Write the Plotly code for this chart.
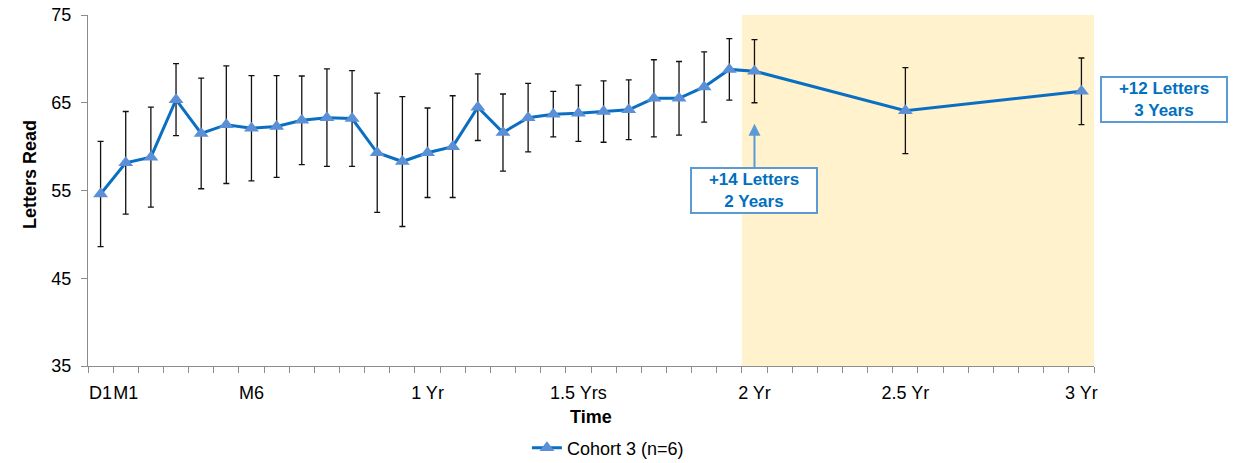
import plotly.graph_objects as go

# ---- data ----
x_index = list(range(27)) + [32, 39]
letters_mean = [54.6, 58.15, 58.8, 65.35, 61.5, 62.5, 62.1, 62.3, 63.0, 63.3, 63.2,
                59.3, 58.3, 59.3, 60.0, 64.5, 61.6, 63.3, 63.7, 63.8, 64.0, 64.2,
                65.5, 65.5, 66.8, 68.8, 68.6, 64.1, 66.3]
letters_err = [6.0, 5.85, 5.7, 4.1, 6.3, 6.7, 6.0, 5.8, 5.05, 5.55, 5.45,
               6.8, 7.4, 5.1, 5.8, 3.8, 4.4, 3.9, 2.6, 3.2, 3.5, 3.4,
               4.4, 4.2, 4.0, 3.5, 3.6, 4.9, 3.8]
tick_positions = [0, 1, 6, 13, 19, 26, 32, 39]
tick_labels = ["D1", "M1", "M6", "1 Yr", "1.5 Yrs", "2 Yr", "2.5 Yr", "3 Yr"]
n_categories = 40
series_name = "Cohort 3 (n=6)"
y_ticks = [35, 45, 55, 65, 75]

FONT = "Liberation Sans, Arial, sans-serif"
LINE_COLOR = "#0A6FC2"
MARKER_COLOR = "#5B8FD6"
BOX_COLOR = "#5B9BD5"
TEXT_BLUE = "#0070C0"
AXIS_GREY = "#8C8C8C"

fig = go.Figure()

fig.add_trace(go.Scatter(
    x=x_index, y=letters_mean, name=series_name, mode="lines+markers",
    line=dict(color=LINE_COLOR, width=3),
    marker=dict(symbol="triangle-up", size=13, color=MARKER_COLOR),
    error_y=dict(type="data", array=letters_err, visible=True,
                 color="#111111", thickness=1.3, width=3),
    cliponaxis=False,
))

# shaded region (2 Yr onwards)
fig.add_shape(type="rect", xref="x", yref="y", x0=25.5, x1=n_categories - 0.5,
              y0=35, y1=75, fillcolor="#FFF2CC", line=dict(width=0), layer="below")

# callout boxes
fig.add_annotation(
    x=26, y=62.6, xref="x", yref="y", ax=26, ay=55.0, axref="x", ayref="y",
    text="<b>+14 Letters<br>2 Years</b>", showarrow=True,
    arrowhead=2, arrowsize=1.2, arrowwidth=2, arrowcolor=BOX_COLOR,
    font=dict(family=FONT, size=17, color=TEXT_BLUE),
    bordercolor=BOX_COLOR, borderwidth=2, borderpad=2, bgcolor="white",
    width=120, height=39,
)
fig.add_annotation(
    x=(1164 - 88) / 1006, y=65.4, xref="paper", yref="y", showarrow=False,
    xanchor="center", yanchor="middle",
    text="<b>+12 Letters<br>3 Years</b>",
    font=dict(family=FONT, size=17, color=TEXT_BLUE),
    bordercolor=BOX_COLOR, borderwidth=2, borderpad=2, bgcolor="white",
    width=120, height=39,
)

# axis titles
fig.add_annotation(
    x=-58 / 1006, y=(366 - 175) / 351, xref="paper", yref="paper",
    text="<b>Letters Read</b>", textangle=-90, showarrow=False,
    xanchor="center", yanchor="middle",
    font=dict(family=FONT, size=18, color="#000000"),
)
fig.add_annotation(
    x=0.5, y=-(417 - 366) / 351, xref="paper", yref="paper",
    text="<b>Time</b>", showarrow=False, xanchor="center", yanchor="middle",
    font=dict(family=FONT, size=18, color="#000000"),
)

fig.update_layout(
    width=1234, height=463,
    margin=dict(l=88, r=140, t=15, b=97, autoexpand=False),
    paper_bgcolor="white", plot_bgcolor="white",
    font=dict(family=FONT, size=18, color="#000000"),
    showlegend=True,
    legend=dict(orientation="h", xref="container", yref="container",
                x=0.427, xanchor="left", y=(463 - 448) / 463, yanchor="middle",
                font=dict(family=FONT, size=18, color="#000000"),
                bgcolor="rgba(0,0,0,0)"),
    xaxis=dict(
        range=[-0.5, n_categories - 0.5], automargin=False,
        tickmode="array", tickvals=tick_positions, ticktext=tick_labels,
        tickangle=0,
        ticks="", ticklabelstandoff=10, showgrid=False, zeroline=False,
        showline=True, linecolor=AXIS_GREY, linewidth=1.3,
        tickfont=dict(family=FONT, size=18, color="#000000"),
        minor=dict(tickmode="array",
                   tickvals=[i - 0.5 for i in range(n_categories + 1)],
                   ticks="outside", ticklen=6, tickcolor=AXIS_GREY, tickwidth=1.3,
                   showgrid=False),
    ),
    yaxis=dict(
        range=[35, 75], automargin=False, tickmode="array", tickvals=y_ticks,
        ticks="outside", ticklen=6, tickcolor=AXIS_GREY, tickwidth=1.3,
        ticklabelstandoff=6,
        showgrid=False, zeroline=False,
        showline=True, linecolor=AXIS_GREY, linewidth=1.3,
        tickfont=dict(family=FONT, size=18, color="#000000"),
    ),
)

fig.write_html("out.html", config={"displayModeBar": False},
               post_script="document.body.style.margin='0px';")
